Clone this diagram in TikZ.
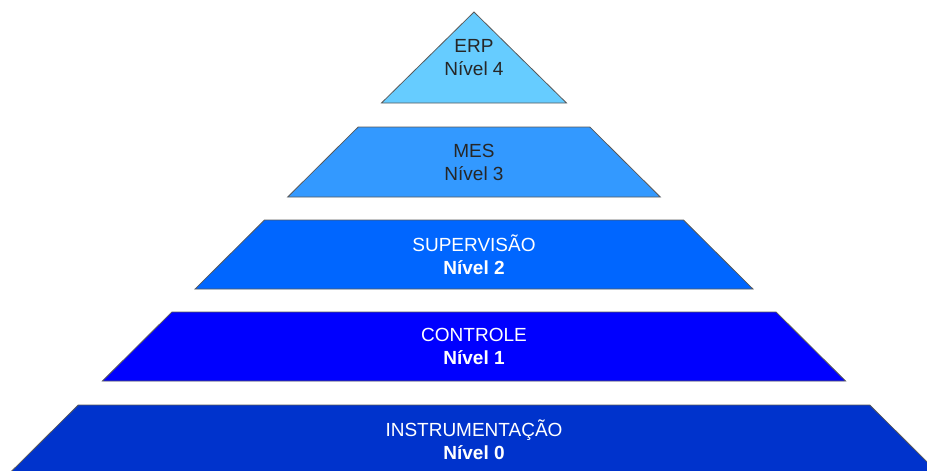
\documentclass[tikz,border=0pt]{standalone}
\usepackage{fontspec}
\setmainfont{Liberation Sans}
\definecolor{erpblue}{HTML}{66CCFF}
\definecolor{mesblue}{HTML}{3399FF}
\definecolor{supblue}{HTML}{0066FF}
\definecolor{ctrlblue}{HTML}{0000FF}
\definecolor{instblue}{HTML}{0033CC}

\begin{document}
\begin{tikzpicture}[x=1pt, y=-1pt, line width=0.8pt,
    layer/.style={draw=black!65, line join=miter},
    tag/.style={font=\fontsize{19}{23}\selectfont, align=center}]
  \clip (0,0) rectangle (927,471);

  % --- top of the pyramid: ERP ---
  \draw[layer, fill=erpblue] (474,12) -- (566.5,103) -- (381.5,103) -- cycle;
  \node[tag, text=black!85] (erp) at (474,57.5) {ERP\\Nível 4};

  % --- the lower layers, one slice of the same pyramid each ---
  \foreach \top/\bot/\col/\txt/\name/\lbl in {
      127/197/mesblue/black!85/mes/{MES\\Nível 3},
      220/289/supblue/white/sup/{SUPERVISÃO\\\textbf{Nível 2}},
      312/381/ctrlblue/white/ctrl/{CONTROLE\\\textbf{Nível 1}},
      405/475/instblue/white/inst/{INSTRUMENTAÇÃO\\\textbf{Nível 0}}}{
    \pgfmathsetmacro{\wt}{1.007*(\top-12)}
    \pgfmathsetmacro{\wb}{1.007*(\bot-12)}
    \draw[layer, fill=\col] ({474-\wt},\top) -- ({474+\wt},\top)
         -- ({474+\wb},\bot) -- ({474-\wb},\bot) -- cycle;
    \node[tag, text=\txt] (\name) at (474,{(\top+\bot)/2}) {\lbl};
  }
\end{tikzpicture}
\end{document}
